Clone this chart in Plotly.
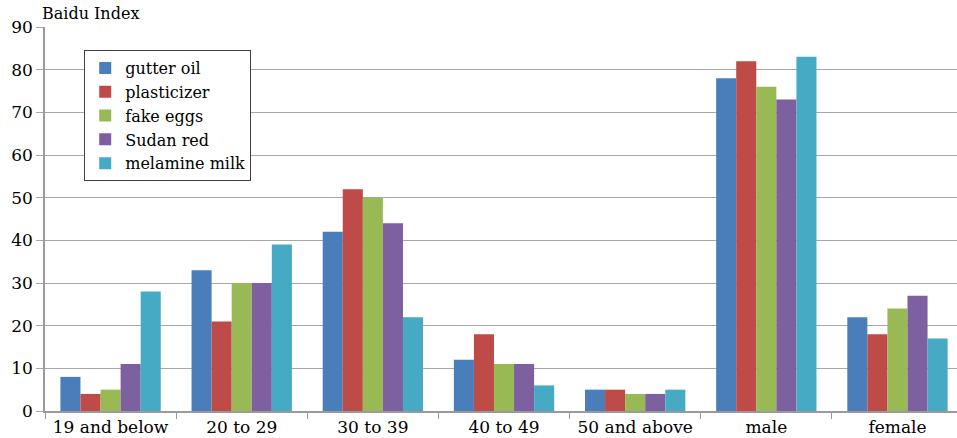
import plotly.graph_objects as go

categories = ["19 and below", "20 to 29", "30 to 39", "40 to 49", "50 and above", "male", "female"]
series_names = ["gutter oil", "plasticizer", "fake eggs", "Sudan red", "melamine milk"]
gutter_oil = [8, 33, 42, 12, 5, 78, 22]
plasticizer = [4, 21, 52, 18, 5, 82, 18]
fake_eggs = [5, 30, 50, 11, 4, 76, 24]
sudan_red = [11, 30, 44, 11, 4, 73, 27]
melamine_milk = [28, 39, 22, 6, 5, 83, 17]
y_ticks = [0, 10, 20, 30, 40, 50, 60, 70, 80, 90]

colors = ["#4A7EBB", "#BE4B48", "#98B954", "#7D60A0", "#46AAC5"]
values = [gutter_oil, plasticizer, fake_eggs, sudan_red, melamine_milk]

font_family = "DejaVu Serif, Liberation Serif, serif"
fig = go.Figure()
for name, vals, c in zip(series_names, values, colors):
    fig.add_trace(go.Bar(x=categories, y=vals, name=name, marker=dict(color=c, line=dict(width=0))))

fig.update_layout(
    width=957, height=438,
    margin=dict(l=45, r=0, t=27, b=27),
    paper_bgcolor="white", plot_bgcolor="white",
    barmode="group", bargap=0.235, bargroupgap=0,
    font=dict(family=font_family, size=16, color="black"),
    legend=dict(x=0.043, y=0.94, xanchor="left", yanchor="top",
                bordercolor="#404040", borderwidth=1, bgcolor="white",
                font=dict(family=font_family, size=16), tracegroupgap=0,
                itemwidth=30),
    showlegend=True,
)
fig.update_xaxes(
    range=[-0.5, 6.454], showgrid=False, showline=True, linecolor="#9a9a9a", linewidth=1.5,
    ticks="outside", tickson="boundaries", ticklen=6, tickcolor="#9a9a9a",
    tickfont=dict(family=font_family, size=17), ticklabelstandoff=0,
)
fig.update_yaxes(
    range=[0, 90], tickvals=y_ticks, showgrid=True, gridcolor="#a8a8a8", gridwidth=1.2,
    showline=True, linecolor="#9a9a9a", linewidth=1.5, ticks="outside", ticklen=7,
    tickcolor="#a8a8a8", tickfont=dict(family=font_family, size=17), zeroline=False,
)
fig.add_annotation(text="Baidu Index", xref="paper", yref="paper", showarrow=False,
                   x=(40 - 45) / 912, y=1 + (27 - 14) / 384, xanchor="left", yanchor="middle",
                   font=dict(family=font_family, size=16))

fig.write_html("out.html", config={"displayModeBar": False},
               post_script="document.body.style.margin='0px';document.body.style.padding='0px';")
